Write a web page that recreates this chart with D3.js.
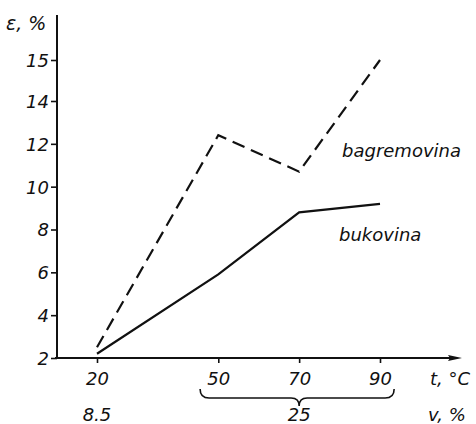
<!DOCTYPE html>
<html>
<head>
<meta charset="utf-8">
<script src="https://cdn.jsdelivr.net/npm/d3@7"></script>
<style>
	body { margin:0; background:#fff; }
	svg text { font-family:"DejaVu Sans", sans-serif; font-style:oblique; font-size:18px; fill:#111; }
</style>
</head>
<body>
<div id="chart"></div>
<script>
// temperatures (x) and the two woods
var temps = [20, 50, 70, 90];
var bagremovina = [2.5, 12.4, 10.7, 15];
var bukovina = [2.2, 5.9, 8.8, 9.2];
var yTicks = [2, 4, 6, 8, 10, 12, 14, 15];
var xTicks = [20, 50, 70, 90];
// moisture row under the t axis
var vTemps = [20, 70];
var vLabels = ["8.5", "25"];

var W = 476, H = 424;

var svg = d3.select("#chart").append("svg")
	.attr("width", W).attr("height", H);

var x = d3.scaleLinear().domain([20, 90]).range([97, 380]);
// 14 and 15 sit one step apart on the original scale
var y = d3.scaleLinear().domain([2, 14, 15]).range([358, 101, 60]);

var ax0 = 57, ay0 = 358;

// y axis
var yAxis = d3.axisLeft(y).tickValues(yTicks).tickSize(6).tickPadding(2);
var gy = svg.append("g").attr("transform", "translate(" + ax0 + ",0)").call(yAxis);
gy.select(".domain").remove();
gy.selectAll("text").attr("dy", "0.36em").style("font-size", "18px").style("font-family", null).attr("fill", "#111");
gy.selectAll("line").attr("stroke", "#111").attr("stroke-width", 1.6);

svg.append("line")
	.attr("x1", ax0).attr("y1", 15).attr("x2", ax0).attr("y2", ay0 + 1)
	.attr("stroke", "#111").attr("stroke-width", 2);

// x axis
var xAxis = d3.axisBottom(x).tickValues(xTicks).tickSize(5).tickPadding(9);
var gx = svg.append("g").attr("transform", "translate(0," + ay0 + ")").call(xAxis);
gx.select(".domain").remove();
gx.selectAll("text").style("font-size", "18px").style("font-family", null).attr("fill", "#111");
gx.selectAll("line").attr("stroke", "#111").attr("stroke-width", 1.6);

svg.append("line")
	.attr("x1", ax0 - 2).attr("y1", ay0).attr("x2", 452).attr("y2", ay0)
	.attr("stroke", "#111").attr("stroke-width", 2);
svg.append("path")
	.attr("d", "M462," + ay0 + " L448," + (ay0 - 3) + " L450," + ay0 + " L448," + (ay0 + 3) + " Z")
	.attr("fill", "#111");

// axis titles
svg.append("text").attr("x", 6).attr("y", 30).style("font-size", "19px").text("ε, %");
svg.append("text").attr("x", 430).attr("y", 385).text("t, °C");
svg.append("text").attr("x", 428).attr("y", 421).text("v, %");

// moisture labels + brace
svg.selectAll(".vlab").data(vLabels).enter().append("text")
	.attr("class", "vlab")
	.attr("x", function(d, i) { return x(vTemps[i]); })
	.attr("y", 421)
	.attr("text-anchor", "middle")
	.text(function(d) { return d; });

var bx1 = x(45.5), bx2 = x(93.5), bm = x(70), bt = 389, bh = 398, bb = 406;
svg.append("path")
	.attr("d", "M" + bx1 + "," + bt +
		" Q" + bx1 + "," + bh + " " + (bx1 + 9) + "," + bh +
		" L" + (bm - 8) + "," + bh +
		" Q" + bm + "," + bh + " " + bm + "," + bb +
		" Q" + bm + "," + bh + " " + (bm + 8) + "," + bh +
		" L" + (bx2 - 9) + "," + bh +
		" Q" + bx2 + "," + bh + " " + bx2 + "," + bt)
	.attr("fill", "none").attr("stroke", "#111").attr("stroke-width", 1.6);

// curves
var line = d3.line()
	.x(function(d, i) { return x(temps[i]); })
	.y(function(d) { return y(d); });

svg.append("path").datum(bagremovina)
	.attr("d", line)
	.attr("fill", "none").attr("stroke", "#111").attr("stroke-width", 2.2)
	.attr("stroke-dasharray", "13,7");

svg.append("path").datum(bukovina)
	.attr("d", line)
	.attr("fill", "none").attr("stroke", "#111").attr("stroke-width", 2.2);

svg.append("text").attr("x", 342).attr("y", 157).text("bagremovina");
svg.append("text").attr("x", 339).attr("y", 241).text("bukovina");
</script>
</body>
</html>
